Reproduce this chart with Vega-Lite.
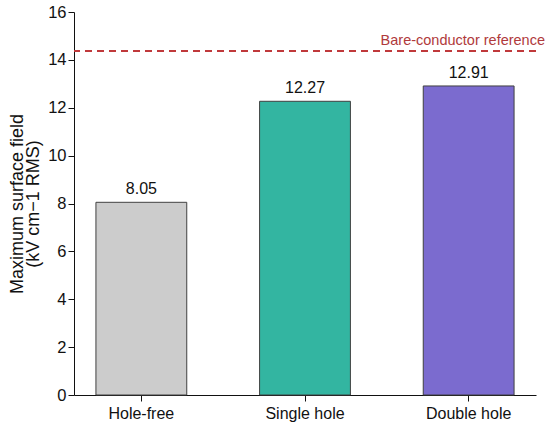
{
  "$schema": "https://vega.github.io/schema/vega-lite/v6.json",
  "autosize": "none",
  "padding": {"left": 74, "top": 12, "right": 14, "bottom": 38},
  "width": 462,
  "height": 383,
  "background": "white",
  "config": {
    "view": {"stroke": null},
    "font": "Liberation Sans"
  },
  "datasets": {
    "bars": [
      {"config": "Hole-free", "value": 8.05, "label": "8.05"},
      {"config": "Single hole", "value": 12.27, "label": "12.27"},
      {"config": "Double hole", "value": 12.91, "label": "12.91"}
    ],
    "ref": [
      {"ref": 14.37, "text": "Bare-conductor reference"}
    ]
  },
  "layer": [
    {
      "data": {"name": "bars"},
      "mark": {"type": "bar", "stroke": "#404040", "strokeWidth": 1},
      "encoding": {
        "x": {
          "field": "config", "type": "nominal", "sort": null,
          "scale": {"paddingInner": 0.445, "paddingOuter": 0.134},
          "axis": {
            "title": null, "labelAngle": 0, "labelFontSize": 16, "labelColor": "#111",
            "domainColor": "#111", "tickColor": "#111", "tickSize": 6, "labelPadding": 4
          }
        },
        "y": {
          "field": "value", "type": "quantitative",
          "scale": {"domain": [0, 16], "nice": false},
          "axis": {
            "title": ["Maximum surface field", "(kV cm\u22121 RMS)"],
            "titleFontSize": 18, "titleFontWeight": "normal", "titleColor": "#111",
            "titlePadding": 5, "titleLineHeight": 16,
            "values": [0, 2, 4, 6, 8, 10, 12, 14, 16],
            "grid": false, "labelFontSize": 16.5, "labelColor": "#111",
            "domainColor": "#111", "tickColor": "#111", "tickSize": 6
          }
        },
        "fill": {
          "field": "config", "type": "nominal", "sort": null,
          "scale": {"domain": ["Hole-free", "Single hole", "Double hole"], "range": ["#cccccc", "#33b5a1", "#7b6bcf"]},
          "legend": null
        }
      }
    },
    {
      "data": {"name": "bars"},
      "mark": {"type": "text", "dy": -13, "fontSize": 16, "color": "#111"},
      "encoding": {
        "x": {"field": "config", "type": "nominal", "sort": null},
        "y": {"field": "value", "type": "quantitative"},
        "text": {"field": "label"}
      }
    },
    {
      "data": {"name": "ref"},
      "mark": {"type": "rule", "color": "#c0393b", "strokeWidth": 2, "strokeDash": [7, 5]},
      "encoding": {
        "y": {"field": "ref", "type": "quantitative"}
      }
    },
    {
      "data": {"name": "ref"},
      "mark": {"type": "text", "align": "right", "baseline": "bottom", "dy": -3, "x": {"expr": "width + 9"}, "fontSize": 14.5, "color": "#b03a3c"},
      "encoding": {
        "y": {"field": "ref", "type": "quantitative"},
        "text": {"field": "text"}
      }
    }
  ]
}
